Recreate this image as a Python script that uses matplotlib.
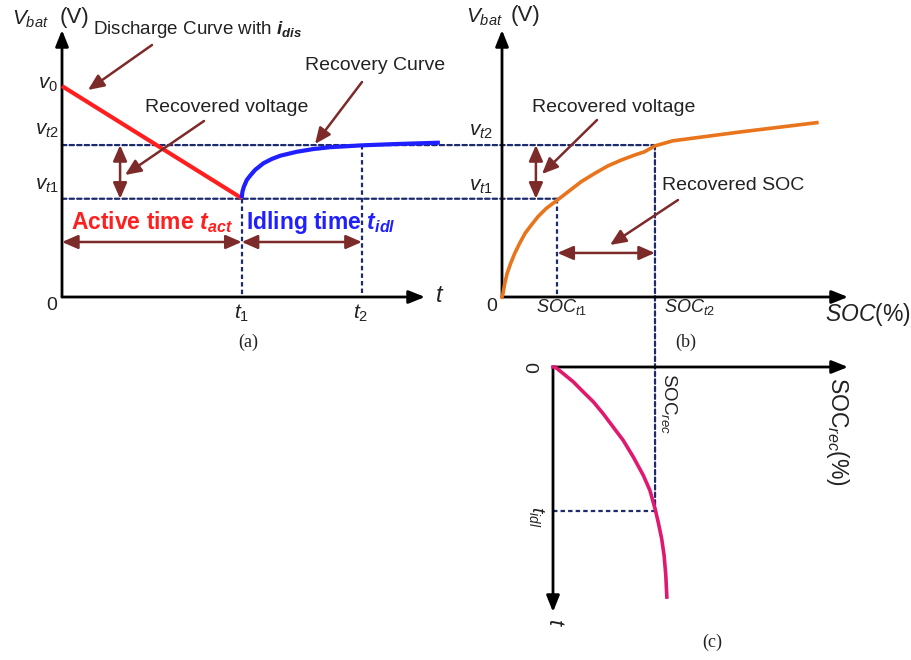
import matplotlib
matplotlib.use('Agg')
import matplotlib.pyplot as plt
from matplotlib.patches import ConnectionPatch, FancyArrowPatch

# ---------------- data (panel units) ----------------
# (a) voltage vs time
discharge_t = [0.0, 4.95]
discharge_v = [7.90, 3.70]
recovery_t = [4.95, 4.97, 5.01, 5.09, 5.18, 5.32, 5.55, 5.78, 6.01, 6.47, 6.92, 7.38, 8.26, 9.22, 10.41]
recovery_v = [3.70, 3.94, 4.13, 4.38, 4.54, 4.76, 5.01, 5.17, 5.29, 5.44, 5.54, 5.61, 5.68, 5.73, 5.78]
# (b) voltage vs SOC
soc_b = [0.0, 0.03, 0.08, 0.15, 0.25, 0.37, 0.51, 0.67, 0.85, 1.04, 1.28, 1.60, 1.91, 2.29,
         2.68, 3.06, 3.45, 3.84, 4.12, 4.42, 4.94, 6.88, 9.10]
vbat_b = [0.0, 0.14, 0.51, 0.89, 1.26, 1.64, 2.01, 2.39, 2.70, 3.01, 3.32, 3.63, 3.94, 4.32,
          4.63, 4.91, 5.13, 5.32, 5.44, 5.66, 5.85, 6.18, 6.53]
# (c) recovered SOC vs idle time
soc_rec_c = [0.0, 0.06, 0.30, 0.59, 0.88, 1.17, 1.45, 1.74, 2.03, 2.32, 2.61, 2.80, 2.95,
             3.04, 3.14, 3.21, 3.26, 3.29]
t_c = [0.0, 0.0, 0.25, 0.56, 0.94, 1.31, 1.75, 2.25, 2.75, 3.37, 4.06, 4.62, 5.31,
       5.81, 6.43, 7.05, 7.80, 8.62]
# key values
t1, t2 = 4.95, 8.26
v0, vt1, vt2 = 7.90, 3.68, 5.69
soc_t1, soc_t2 = 1.60, 4.42
soc_rec, t_idl = 2.95, 5.40

W, H = 912, 660
plt.rcParams['font.family'] = ['Liberation Sans', 'DejaVu Sans']
plt.rcParams['mathtext.fontset'] = 'custom'
plt.rcParams['mathtext.rm'] = 'Liberation Sans'
plt.rcParams['mathtext.it'] = 'Liberation Sans:italic'
plt.rcParams['mathtext.bf'] = 'Liberation Sans:bold'
plt.rcParams['mathtext.bfit'] = 'Liberation Sans:italic:bold'

fig = plt.figure(figsize=(W / 100, H / 100), dpi=100)
fig.patch.set_facecolor('white')


def box(x0, x1, ytop, ybot):
    return [x0 / W, 1 - ybot / H, (x1 - x0) / W, (ybot - ytop) / H]


axA = fig.add_axes(box(62, 425, 30, 297))
axA.set_xlim(0, 10); axA.set_ylim(0, 10)
axB = fig.add_axes(box(502, 848, 30, 297))
axB.set_xlim(0, 10); axB.set_ylim(0, 10)
axC = fig.add_axes(box(553, 848, 367, 612))
axC.set_xlim(0, 8.526); axC.set_ylim(9.18, 0)
for ax in (axA, axB, axC):
    ax.axis('off')

BROWN = '#7d2a2a'
NAVY = '#1c2a6e'
TXT = '#222222'
DASH = dict(color=NAVY, lw=1.6, linestyle=(0, (2.0, 1.4)))

# axes arrows
axprops = dict(arrowstyle='-|>,head_length=0.7,head_width=0.28', color='black', lw=2.0,
               mutation_scale=14, shrinkA=0, shrinkB=0)
for ax, tip in [(axA, (10, 0)), (axA, (0, 10)), (axB, (10, 0)), (axB, (0, 10)),
                (axC, (8.526, 0)), (axC, (0, 9.18))]:
    ax.annotate('', xy=tip, xytext=(0, 0), arrowprops=axprops, annotation_clip=False)


def conn(xyA, axa, xyB, axb):
    c = ConnectionPatch(xyA=xyA, coordsA=axa.transData, xyB=xyB, coordsB=axb.transData,
                        zorder=-1, **DASH)
    fig.add_artist(c)


# dashed guide lines
conn((0, vt1), axA, (soc_t1, vt1), axB)
conn((0, vt2), axA, (soc_t2, vt2), axB)
axA.plot([t1, t1], [vt1, 0], clip_on=False, zorder=1, **DASH)
axA.plot([t2, t2], [vt2, 0], clip_on=False, zorder=1, **DASH)
axB.plot([soc_t1, soc_t1], [vt1, 0], clip_on=False, zorder=1, **DASH)
conn((soc_t2, vt2), axB, (soc_rec, t_idl), axC)
axC.plot([0, soc_rec], [t_idl, t_idl], clip_on=False, zorder=1, **DASH)

# curves
axA.plot(discharge_t, discharge_v, color='#ff1f1f', lw=3.0, clip_on=False, zorder=3,
         solid_capstyle='butt')
axA.plot(recovery_t, recovery_v, color='#1f1fff', lw=3.0, clip_on=False, zorder=3,
         solid_capstyle='butt', solid_joinstyle='round')
axB.plot(soc_b, vbat_b, color='#e8741c', lw=2.6, clip_on=False, zorder=3,
         solid_joinstyle='round')
axC.plot(soc_rec_c, t_c, color='#e0186e', lw=2.6, clip_on=False, zorder=3,
         solid_joinstyle='round')


# brown arrows (figure pixel coords, y from top)
def fp(x, y):
    return (x, H - y)


sprops = dict(arrowstyle='-|>,head_length=0.8,head_width=0.35', color=BROWN, lw=1.8,
              mutation_scale=12, shrinkA=0, shrinkB=0)
dprops = dict(arrowstyle='<|-|>,head_length=0.8,head_width=0.35', color=BROWN, lw=1.8,
              mutation_scale=12, shrinkA=0, shrinkB=0)
for (x0, y0, x1, y1) in [(152, 45, 88, 90), (362, 82, 315, 144), (204, 121, 125, 175),
                         (597, 120, 542, 174), (678, 200, 610, 245)]:
    fig.add_artist(FancyArrowPatch(fp(x0, y0), fp(x1, y1), transform=None, **sprops))
axA.annotate('', xy=(1.6, vt2), xytext=(1.6, vt1), arrowprops=dprops, annotation_clip=False)
axB.annotate('', xy=(0.98, vt2), xytext=(0.98, vt1), arrowprops=dprops, annotation_clip=False)
axA.annotate('', xy=(0, 2.06), xytext=(t1, 2.06), arrowprops=dprops, annotation_clip=False)
axA.annotate('', xy=(t1, 2.06), xytext=(t2, 2.06), arrowprops=dprops, annotation_clip=False)
axB.annotate('', xy=(soc_t1, 1.65), xytext=(soc_t2, 1.65), arrowprops=dprops,
             annotation_clip=False)


def T(x, y, s, **kw):
    kw.setdefault('va', 'center')
    kw.setdefault('ha', 'left')
    fig.text(x / W, 1 - y / H, s, **kw)


# axis titles
T(12, 19, r'$V_{bat}$', fontsize=15, color=TXT)
T(60, 18, '(V)', fontsize=16, color=TXT)
T(466, 17, r'$V_{bat}$', fontsize=15, color=TXT)
T(511, 16, '(V)', fontsize=16, color=TXT)

# annotation texts
T(93, 29, r'Discharge Curve with $\mathbfit{i}_{\mathbfit{dis}}$', fontsize=13.5, color=TXT)
T(305, 66, 'Recovery Curve', fontsize=14, color=TXT)
T(145, 107, 'Recovered voltage', fontsize=14, color=TXT)
T(532, 107, 'Recovered voltage', fontsize=14, color=TXT)
T(662, 185, 'Recovered SOC', fontsize=14, color=TXT)

T(71, 222, r'Active time $\mathbfit{t}_{\mathbfit{act}}$', fontsize=16.5, color='#ff1f1f',
  fontweight='bold')
T(246, 222, r'Idling time $\mathbfit{t}_{\mathbfit{idl}}$', fontsize=16.5, color='#1f1fff',
  fontweight='bold')

# value labels
for (x, y, s) in [(48, 84, r'$v_{\mathit{0}}$'), (47, 130, r'$v_{\mathit{t2}}$'),
                  (47, 186, r'$v_{\mathit{t1}}$'), (481, 131, r'$v_{\mathit{t2}}$'),
                  (481, 187, r'$v_{\mathit{t1}}$')]:
    T(x, y, s, fontsize=15, ha='center', color=TXT)
T(52, 305, '0', fontsize=14, ha='center', color=TXT)
T(492, 307, '0', fontsize=14, ha='center', color=TXT)
T(440, 296, r'$t$', fontsize=17, ha='center', color=TXT)
T(242, 313, r'$t_{1}$', fontsize=15, ha='center', color=TXT)
T(361, 313, r'$t_{2}$', fontsize=15, ha='center', color=TXT)
T(561, 307, r'$SOC_{t1}$', fontsize=13, ha='center', color=TXT)
T(689, 307, r'$SOC_{t2}$', fontsize=13, ha='center', color=TXT)
T(868, 314, r'$SOC$(%)', fontsize=16.5, ha='center', color=TXT)

# panel (c) rotated labels
T(529, 367, '0', fontsize=14, ha='center', rotation=-90, color=TXT)
T(555, 622, r'$t$', fontsize=16, ha='center', rotation=-90, color=TXT)
T(838, 431, r'$\mathrm{SOC}_{rec}$(%)', fontsize=16.5, ha='center', rotation=-90, color=TXT)
T(669, 403, r'$\mathrm{SOC}_{rec}$', fontsize=13.5, ha='center', rotation=-90, color=TXT)
T(537, 517, r'$t_{idl}$', fontsize=14, ha='center', rotation=-90, color=TXT)

# captions
T(248, 342, '(a)', fontsize=13, ha='center', family='Liberation Serif', color=TXT)
T(686, 342, '(b)', fontsize=13, ha='center', family='Liberation Serif', color=TXT)
T(712, 642, '(c)', fontsize=13, ha='center', family='Liberation Serif', color=TXT)

fig.savefig('out.png', dpi=100, facecolor='white')
